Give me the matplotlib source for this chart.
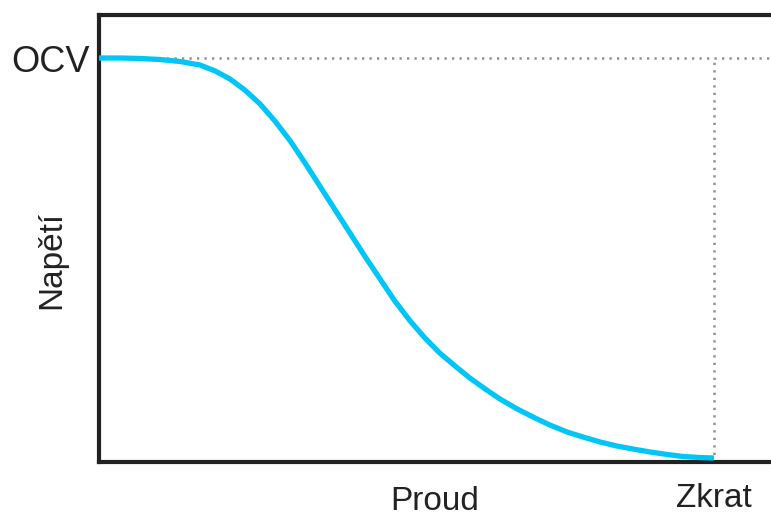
import matplotlib.pyplot as plt

# proud (0 = naprazdno, 1 = zkrat) a napeti (1 = OCV)
proud = [0.0, 0.034, 0.067, 0.099, 0.132, 0.164, 0.189, 0.213, 0.237, 0.262,
         0.286, 0.311, 0.335, 0.359, 0.384, 0.408, 0.432, 0.457, 0.481, 0.506,
         0.530, 0.554, 0.579, 0.603, 0.628, 0.652, 0.680, 0.709, 0.733, 0.761,
         0.787, 0.815, 0.842, 0.868, 0.896, 0.924, 0.950, 0.977, 1.0]
napeti = [1.0, 1.0, 0.9988, 0.9963, 0.9913, 0.9827, 0.9678, 0.9480, 0.9208, 0.8861,
          0.8441, 0.7946, 0.7401, 0.6832, 0.6238, 0.5668, 0.5099, 0.4530, 0.3985, 0.3490,
          0.3069, 0.2698, 0.2376, 0.2079, 0.1807, 0.1559, 0.1312, 0.1089, 0.0916, 0.0743,
          0.0619, 0.0495, 0.0396, 0.0322, 0.0248, 0.0186, 0.0136, 0.0111, 0.0099]
ocv = 1.0
zkrat = 1.0

plt.rcParams['font.family'] = ['Liberation Sans', 'DejaVu Sans']

fig = plt.figure(figsize=(7.71, 5.16), dpi=100)
ax = fig.add_axes([99 / 771, 1 - 462 / 516, 1 - 99 / 771, (462 - 15) / 516])

ax.set_xlim(0, 672 / 615)
ax.set_ylim(0, 447 / 404)

dots = (0, (0.9, 2.1))
ax.plot([0, 2], [ocv, ocv], color='#8f8f8f', linestyle=dots, linewidth=1.8, zorder=1)
ax.plot([zkrat, zkrat], [0, ocv], color='#8f8f8f', linestyle=dots, linewidth=1.8, zorder=1)
ax.plot(proud, napeti, color='#00c6f8', linewidth=3.8, solid_capstyle='butt',
        solid_joinstyle='round', zorder=3)

for s in ['left', 'top', 'bottom']:
    ax.spines[s].set_linewidth(3)
    ax.spines[s].set_color('#222222')
ax.spines['right'].set_visible(False)

ax.set_yticks([ocv])
ax.set_yticklabels(['OCV'], fontsize=26, color='#222222')
ax.set_xticks([zkrat])
ax.set_xticklabels(['Zkrat'], fontsize=24, color='#222222')
ax.tick_params(length=0, pad=7)
ax.tick_params(axis='x', pad=15)

fig.text(435 / 771, 1 - 502 / 516, 'Proud', fontsize=24, color='#222222', ha='center', va='center')
fig.text(52 / 771, 1 - 260 / 516, 'Napětí', fontsize=24, color='#222222', ha='center', va='center', rotation=90)

plt.savefig('out.png', dpi=100)
